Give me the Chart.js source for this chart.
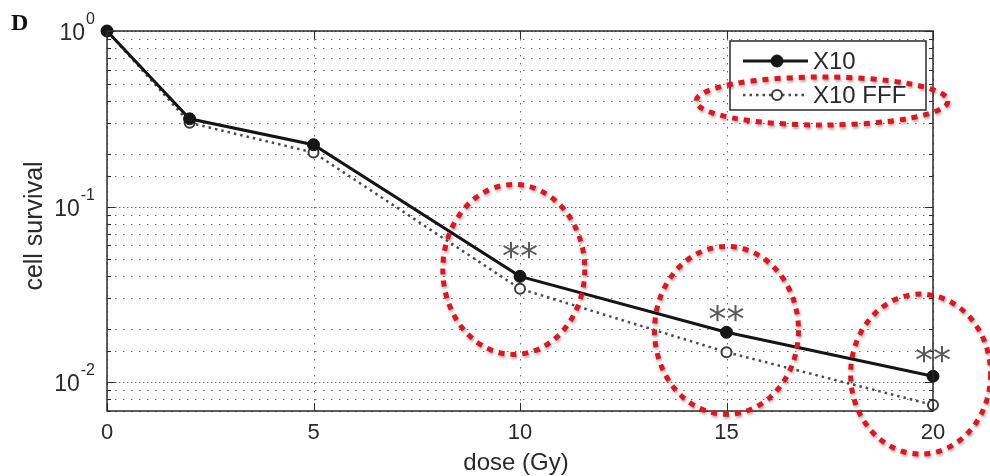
<!DOCTYPE html>
<html>
<head>
<meta charset="utf-8">
<script src="https://cdn.jsdelivr.net/npm/chart.js@4.4.1/dist/chart.umd.min.js"></script>
<style>
  html, body { margin: 0; padding: 0; background: #fff; }
  #wrap { width: 990px; height: 476px; position: relative; }
</style>
</head>
<body>
<div id="wrap"><canvas id="survivalChart"></canvas></div>
<script>
// Data
const doses = [0, 2, 5, 10, 15, 20];
const seriesLabels = ['X10', 'X10 FFF'];
const survivalX10 = [1, 0.316, 0.225, 0.040, 0.0192, 0.0108];
const survivalFFF = [1, 0.300, 0.203, 0.034, 0.0148, 0.0074];
const xTicks = [0, 5, 10, 15, 20];

// significance marks (**) above the points
const starDose = [10, 15, 20];
const starLevel = [0.059, 0.0256, 0.015];

// red dotted rings drawn over the figure (centres in data units)
const ringDose = [9.85, 15, 19.7];
const ringLevel = [0.0438, 0.0197, 0.0111];

const FONT = '"Liberation Sans", Arial, Helvetica, sans-serif';
const ringSizes = [[71, 85], [72, 84], [70, 80]];

// Dotted MATLAB style grid
const gridPlugin = {
  id: 'matlabGrid',
  beforeDatasetsDraw(chart) {
    const { ctx, chartArea: a, scales: { x, y } } = chart;
    ctx.save();
    ctx.lineWidth = 1;
    ctx.strokeStyle = '#6a6a6a';
    y.ticks.forEach(t => {
      const py = Math.round(y.getPixelForValue(t.value)) + 0.5;
      const lg = Math.log10(t.value);
      const major = Math.abs(lg - Math.round(lg)) < 1e-9;
      ctx.setLineDash(major ? [1.5, 2.5] : [1.5, 6.5]);
      ctx.beginPath();
      ctx.moveTo(a.left, py);
      ctx.lineTo(a.right, py);
      ctx.stroke();
    });
    ctx.setLineDash([1.5, 6.5]);
    xTicks.forEach(v => {
      const px = Math.round(x.getPixelForValue(v)) + 0.5;
      ctx.beginPath();
      ctx.moveTo(px, a.top);
      ctx.lineTo(px, a.bottom);
      ctx.stroke();
    });
    ctx.restore();
  }
};

// Frame, inner ticks, y labels with exponents, titles, legend and marks
const overlayPlugin = {
  id: 'overlay',
  afterDraw(chart) {
    const { ctx, chartArea: a, scales: { x, y } } = chart;
    ctx.save();

    // frame
    ctx.setLineDash([]);
    ctx.strokeStyle = '#2a2a2a';
    ctx.lineWidth = 1.5;
    ctx.strokeRect(a.left, a.top, a.right - a.left, a.bottom - a.top);

    // inward ticks
    ctx.lineWidth = 1;
    y.ticks.forEach(t => {
      const py = Math.round(y.getPixelForValue(t.value)) + 0.5;
      const lg = Math.log10(t.value);
      const len = Math.abs(lg - Math.round(lg)) < 1e-9 ? 8 : 4;
      ctx.beginPath();
      ctx.moveTo(a.left, py); ctx.lineTo(a.left + len, py);
      ctx.moveTo(a.right, py); ctx.lineTo(a.right - len, py);
      ctx.stroke();
    });
    xTicks.forEach(v => {
      const px = Math.round(x.getPixelForValue(v)) + 0.5;
      ctx.beginPath();
      ctx.moveTo(px, a.bottom); ctx.lineTo(px, a.bottom - 8);
      ctx.moveTo(px, a.top); ctx.lineTo(px, a.top + 8);
      ctx.stroke();
    });

    // y tick labels as 10^n
    ctx.fillStyle = '#2a2a2a';
    ctx.textBaseline = 'middle';
    ctx.textAlign = 'right';
    y.ticks.forEach(t => {
      const lg = Math.log10(t.value);
      if (Math.abs(lg - Math.round(lg)) > 1e-9) return;
      const py = y.getPixelForValue(t.value);
      const exp = String(Math.round(lg));
      ctx.font = '16px ' + FONT;
      const ew = ctx.measureText(exp).width;
      ctx.fillText(exp, 95, py - 11);
      ctx.font = '23px ' + FONT;
      ctx.fillText('10', 95 - ew - 1, py + 3);
    });

    // axis titles
    ctx.textAlign = 'center';
    ctx.font = '24px ' + FONT;
    ctx.fillText('dose (Gy)', (a.left + a.right) / 2 - 4, 463);
    ctx.save();
    ctx.translate(35, (a.top + a.bottom) / 2 + 5);
    ctx.rotate(-Math.PI / 2);
    ctx.font = '25px ' + FONT;
    ctx.fillText('cell survival', 0, 0);
    ctx.restore();

    // panel letter
    ctx.textAlign = 'left';
    ctx.textBaseline = 'alphabetic';
    ctx.font = 'bold 24px "Liberation Serif", "Times New Roman", serif';
    ctx.fillStyle = '#111';
    ctx.fillText('D', 11, 30);

    // significance marks
    ctx.textAlign = 'center';
    ctx.font = '36px "DejaVu Sans", ' + FONT;
    ctx.fillStyle = '#5a5a5a';
    starDose.forEach((d, i) => {
      ctx.fillText('**', x.getPixelForValue(d), y.getPixelForValue(starLevel[i]) + 21);
    });

    // legend box
    const lx = a.right - 7, ly = a.top + 10;
    const lw = 196, lh = 69;
    const left = lx - lw;
    ctx.fillStyle = '#fff';
    ctx.fillRect(left, ly, lw, lh);
    ctx.strokeStyle = '#2a2a2a';
    ctx.lineWidth = 1.5;
    ctx.strokeRect(left, ly, lw, lh);
    const rows = [ly + 20, ly + 54];
    chart.data.datasets.forEach((ds, i) => {
      const ry = rows[i];
      ctx.strokeStyle = ds.borderColor;
      ctx.lineWidth = ds.borderWidth;
      ctx.setLineDash(ds.borderDash || []);
      ctx.beginPath();
      ctx.moveTo(left + 13, ry);
      ctx.lineTo(left + 78, ry);
      ctx.stroke();
      ctx.setLineDash([]);
      ctx.beginPath();
      ctx.arc(left + 47, ry, ds.pointRadius, 0, Math.PI * 2);
      ctx.fillStyle = ds.pointBackgroundColor;
      ctx.fill();
      ctx.lineWidth = ds.pointBorderWidth;
      ctx.strokeStyle = ds.pointBorderColor;
      ctx.stroke();
      ctx.fillStyle = '#2a2a2a';
      ctx.font = '24px ' + FONT;
      ctx.textAlign = 'left';
      ctx.textBaseline = 'middle';
      ctx.fillText(ds.label, left + 83, ry + 1);
    });

    // red dotted rings
    ctx.strokeStyle = '#e3141c';
    ctx.lineWidth = 5;
    ctx.setLineDash([6, 6]);
    ctx.shadowColor = 'rgba(0,0,0,0.35)';
    ctx.shadowBlur = 3;
    ctx.shadowOffsetX = 1;
    ctx.shadowOffsetY = 2;
    ringDose.forEach((d, i) => {
      ctx.beginPath();
      ctx.ellipse(x.getPixelForValue(d), y.getPixelForValue(ringLevel[i]),
        ringSizes[i][0], ringSizes[i][1], 0, 0, Math.PI * 2);
      ctx.stroke();
    });
    // ring around the FFF legend entry
    ctx.beginPath();
    ctx.ellipse(left + 92, ly + 60, 126, 24, 0, 0, Math.PI * 2);
    ctx.stroke();

    ctx.restore();
  }
};

const ctx = document.getElementById('survivalChart').getContext('2d');

new Chart(ctx, {
  type: 'line',
  data: {
    labels: doses,
    datasets: [
      {
        label: seriesLabels[0],
        data: doses.map((d, i) => ({ x: d, y: survivalX10[i] })),
        borderColor: '#151515',
        borderWidth: 3,
        pointRadius: 6,
        pointBackgroundColor: '#151515',
        pointBorderColor: '#151515',
        pointBorderWidth: 1,
        tension: 0,
        clip: false
      },
      {
        label: seriesLabels[1],
        data: doses.map((d, i) => ({ x: d, y: survivalFFF[i] })),
        borderColor: '#4a4a4a',
        borderWidth: 2.5,
        borderDash: [2.5, 4],
        pointRadius: 5,
        pointBackgroundColor: '#fff',
        pointBorderColor: '#3a3a3a',
        pointBorderWidth: 2,
        tension: 0,
        clip: false
      }
    ]
  },
  options: {
    responsive: true,
    maintainAspectRatio: false,
    animation: false,
    layout: { padding: { top: 31, right: 57, left: 0, bottom: 0 } },
    plugins: {
      legend: { display: false },
      tooltip: { enabled: false }
    },
    scales: {
      x: {
        type: 'linear',
        min: 0,
        max: 20,
        grid: { display: false, drawTicks: false },
        border: { display: false },
        afterFit: scale => { scale.height = 65; },
        afterBuildTicks: scale => { scale.ticks = xTicks.map(v => ({ value: v })); },
        ticks: {
          padding: 9,
          color: '#2a2a2a',
          font: { family: FONT, size: 22 }
        }
      },
      y: {
        type: 'logarithmic',
        min: 0.00684,
        max: 1,
        grid: { display: false, drawTicks: false },
        border: { display: false },
        afterFit: scale => { scale.width = 107; },
        ticks: { display: false }
      }
    }
  },
  plugins: [gridPlugin, overlayPlugin]
});
</script>
</body>
</html>
